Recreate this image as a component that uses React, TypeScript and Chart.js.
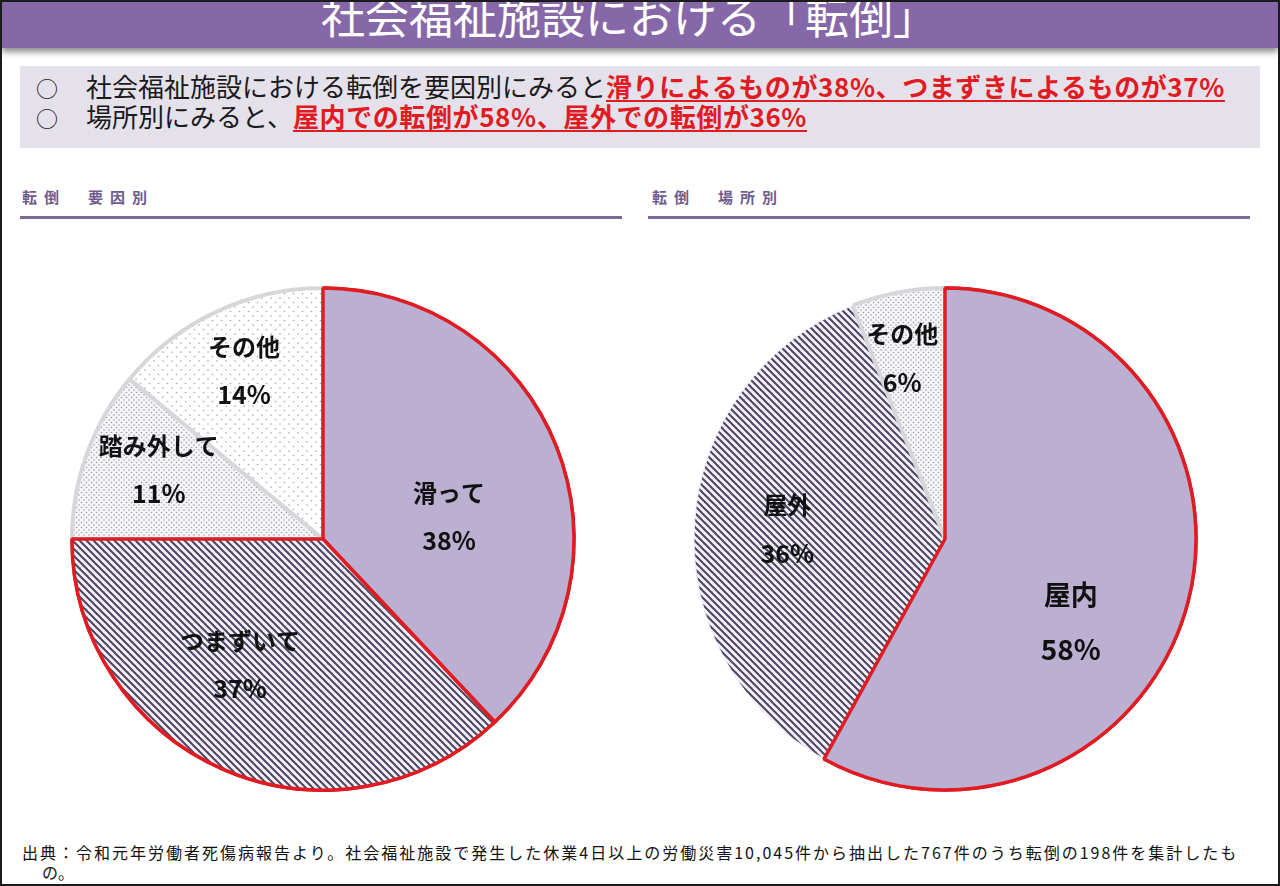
import React, { useEffect, useRef } from "react";
import { Chart, registerables } from "chart.js";

Chart.register(...registerables);

// ---- data ----
const causeLabels = ["滑って", "つまずいて", "踏み外して", "その他"];
const causeValues = [38, 37, 11, 14];
const placeLabels = ["屋内", "屋外", "その他"];
const placeValues = [58, 36, 6];

const titleText = "社会福祉施設における「転倒」";
const line1Black = "社会福祉施設における転倒を要因別にみると";
const line1Red = "滑りによるものが38%、つまずきによるものが37%";
const line2Black = "場所別にみると、";
const line2Red = "屋内での転倒が58%、屋外での転倒が36%";
const leftHeading = "転倒　要因別";
const rightHeading = "転倒　場所別";
const sourceLine1 =
  "出典：令和元年労働者死傷病報告より。社会福祉施設で発生した休業4日以上の労働災害10,045件から抽出した767件のうち転倒の198件を集計したも";
const sourceLine2 = "の。";

const FONT = '"Noto Sans CJK JP", "Noto Sans", sans-serif';
const RED = "#e01b22";
const SOLID = "#bbafd2";

// ---- patterns ----
function hatchPattern(): CanvasPattern {
  const s = 7;
  const c = document.createElement("canvas");
  c.width = s;
  c.height = s;
  const g = c.getContext("2d")!;
  g.fillStyle = "#f3f0f8";
  g.fillRect(0, 0, s, s);
  g.strokeStyle = "#4b4463";
  g.lineWidth = 2.0;
  for (let k = -1; k <= 1; k++) {
    g.beginPath();
    g.moveTo(k * s - s, -s);
    g.lineTo(k * s + 2 * s, 2 * s);
    g.stroke();
  }
  return g.createPattern(c, "repeat")!;
}

function dotPattern(size: number, pts: number[][], r: number, color: string, bg: string): CanvasPattern {
  const c = document.createElement("canvas");
  c.width = size;
  c.height = size;
  const g = c.getContext("2d")!;
  g.fillStyle = bg;
  g.fillRect(0, 0, size, size);
  g.fillStyle = color;
  for (const [x, y] of pts) {
    g.beginPath();
    g.arc(x, y, r, 0, Math.PI * 2);
    g.fill();
  }
  return g.createPattern(c, "repeat")!;
}

type PieProps = {
  labels: string[];
  values: number[];
  kinds: string[];
  redraw: number[];
  angleOffset: number[];
  radiusFrac: number[];
  fontSize: number[];
  left: number;
  top: number;
};

function PieChart(props: PieProps) {
  const ref = useRef<HTMLCanvasElement>(null);
  useEffect(() => {
    const canvas = ref.current!;
    const fills = props.kinds.map((k) => {
      if (k === "solid") return SOLID;
      if (k === "hatch") return hatchPattern();
      if (k === "dense") return dotPattern(5, [[1, 1], [3.5, 3.5]], 0.8, "#9d98a8", "#f6f5f8");
      return dotPattern(9, [[2, 2], [6.5, 6.5]], 0.85, "#a9a9ad", "#ffffff");
    });
    const borderColors = props.kinds.map((k, i) =>
      props.redraw.includes(i) ? RED : k === "hatch" ? "#f0edf5" : "#d7d7da"
    );
    const borderWidths = props.kinds.map((k, i) => (props.redraw.includes(i) ? 3.5 : k === "hatch" ? 1 : 4));
    const labelPlugin = {
      id: "sliceLabels",
      afterDatasetsDraw(chart: any) {
        const meta = chart.getDatasetMeta(0);
        const ctx = chart.ctx as CanvasRenderingContext2D;
        props.redraw.forEach((i) => meta.data[i].draw(ctx));
        meta.data.forEach((arc: any, i: number) => {
          const p = arc.getProps(["x", "y", "startAngle", "endAngle", "outerRadius"], true);
          const mid = (p.startAngle + p.endAngle) / 2 + (props.angleOffset[i] * Math.PI) / 180;
          const r = p.outerRadius * props.radiusFrac[i];
          const x = p.x + Math.cos(mid) * r;
          const y = p.y + Math.sin(mid) * r;
          const fs = props.fontSize[i];
          const gap = fs * 2;
          ctx.save();
          ctx.font = `bold ${fs}px ${FONT}`;
          ctx.fillStyle = "#111111";
          ctx.textAlign = "center";
          ctx.textBaseline = "middle";
          ctx.fillText(props.labels[i], x, y - gap / 2);
          ctx.font = `bold ${fs + 1}px ${FONT}`;
          ctx.fillText(`${props.values[i]}%`, x, y + gap / 2);
          ctx.restore();
        });
      },
    };
    const chart = new Chart(canvas, {
      type: "pie",
      data: {
        labels: props.labels,
        datasets: [
          {
            data: props.values,
            backgroundColor: fills as any,
            borderColor: borderColors,
            borderWidth: borderWidths,
            hoverOffset: 0,
          },
        ],
      },
      options: {
        responsive: false,
        animation: false,
        radius: 251,
        layout: { padding: 0 },
        events: [],
        plugins: {
          legend: { display: false },
          tooltip: { enabled: false },
        },
      } as any,
      plugins: [labelPlugin],
    });
    return () => chart.destroy();
  }, []);
  return (
    <canvas
      ref={ref}
      width={540}
      height={540}
      style={{ position: "absolute", left: props.left, top: props.top, width: 540, height: 540 }}
    />
  );
}

const redStyle: React.CSSProperties = {
  color: RED,
  fontWeight: 700,
  textDecoration: "underline",
  textDecorationThickness: "2px",
  textUnderlineOffset: "3px",
};

export default function App() {
  useEffect(() => {
    document.body.style.margin = "0";
  }, []);
  return (
    <div
      style={{
        position: "absolute",
        left: 0,
        top: 0,
        width: 1280,
        height: 886,
        boxSizing: "border-box",
        border: "2px solid #1b1b1b",
        background: "#ffffff",
        overflow: "hidden",
        fontFamily: FONT,
      }}
    >
      {/* title bar */}
      <div
        style={{
          position: "absolute",
          left: 0,
          top: 0,
          width: 1276,
          height: 46,
          background: "#8668a8",
          boxShadow: "0 4px 6px rgba(0,0,0,0.45)",
          overflow: "hidden",
        }}
      >
        <div
          style={{
            position: "absolute",
            left: 0,
            right: 22,
            top: -17,
            textAlign: "center",
            color: "#ffffff",
            fontSize: 44,
            lineHeight: "60px",
            fontWeight: 400,
            whiteSpace: "nowrap",
          }}
        >
          {titleText}
        </div>
      </div>

      {/* summary box */}
      <div
        style={{
          position: "absolute",
          left: 18,
          top: 64,
          width: 1240,
          height: 82,
          background: "#e5e1eb",
        }}
      >
        <div style={{ position: "absolute", left: 16, top: 5, fontSize: 26, lineHeight: "30px", color: "#1a1a1a", whiteSpace: "nowrap" }}>
          <span style={{ display: "inline-block", width: 50, fontSize: 22 }}>○</span>
          <span>{line1Black}</span>
          <span style={{ ...redStyle, letterSpacing: 0.6 }}>{line1Red}</span>
        </div>
        <div style={{ position: "absolute", left: 16, top: 35, fontSize: 26, lineHeight: "30px", color: "#1a1a1a", whiteSpace: "nowrap" }}>
          <span style={{ display: "inline-block", width: 50, fontSize: 22 }}>○</span>
          <span>{line2Black}</span>
          <span style={{ ...redStyle, letterSpacing: 0.6 }}>{line2Red}</span>
        </div>
      </div>

      {/* section headings */}
      <div style={{ position: "absolute", left: 20, top: 185, fontSize: 15, lineHeight: "20px", fontWeight: 700, color: "#6f5b8c", letterSpacing: 7, whiteSpace: "nowrap" }}>
        {leftHeading}
      </div>
      <div style={{ position: "absolute", left: 18, top: 214, width: 602, height: 3, background: "#7b6a94" }} />
      <div style={{ position: "absolute", left: 650, top: 185, fontSize: 15, lineHeight: "20px", fontWeight: 700, color: "#6f5b8c", letterSpacing: 7, whiteSpace: "nowrap" }}>
        {rightHeading}
      </div>
      <div style={{ position: "absolute", left: 646, top: 214, width: 602, height: 3, background: "#7b6a94" }} />

      {/* pies */}
      <PieChart
        labels={causeLabels}
        values={causeValues}
        kinds={["solid", "hatch", "dense", "sparse"]}
        redraw={[0, 1]}
        angleOffset={[11.6, 10, 3, 0]}
        radiusFrac={[0.51, 0.6, 0.71, 0.74]}
        fontSize={[24, 24, 24, 24]}
        left={51}
        top={267}
      />
      <PieChart
        labels={placeLabels}
        values={placeValues}
        kinds={["solid", "hatch", "dense"]}
        redraw={[0]}
        angleOffset={[19, 0, -2.5]}
        radiusFrac={[0.6, 0.63, 0.74]}
        fontSize={[27, 24, 24]}
        left={673}
        top={267}
      />

      {/* source */}
      <div style={{ position: "absolute", left: 20, top: 840, fontSize: 16, lineHeight: "20px", color: "#111", letterSpacing: 2.0, whiteSpace: "nowrap" }}>
        {sourceLine1}
      </div>
      <div style={{ position: "absolute", left: 40, top: 860, fontSize: 16, lineHeight: "20px", color: "#111", whiteSpace: "nowrap" }}>
        {sourceLine2}
      </div>
    </div>
  );
}
